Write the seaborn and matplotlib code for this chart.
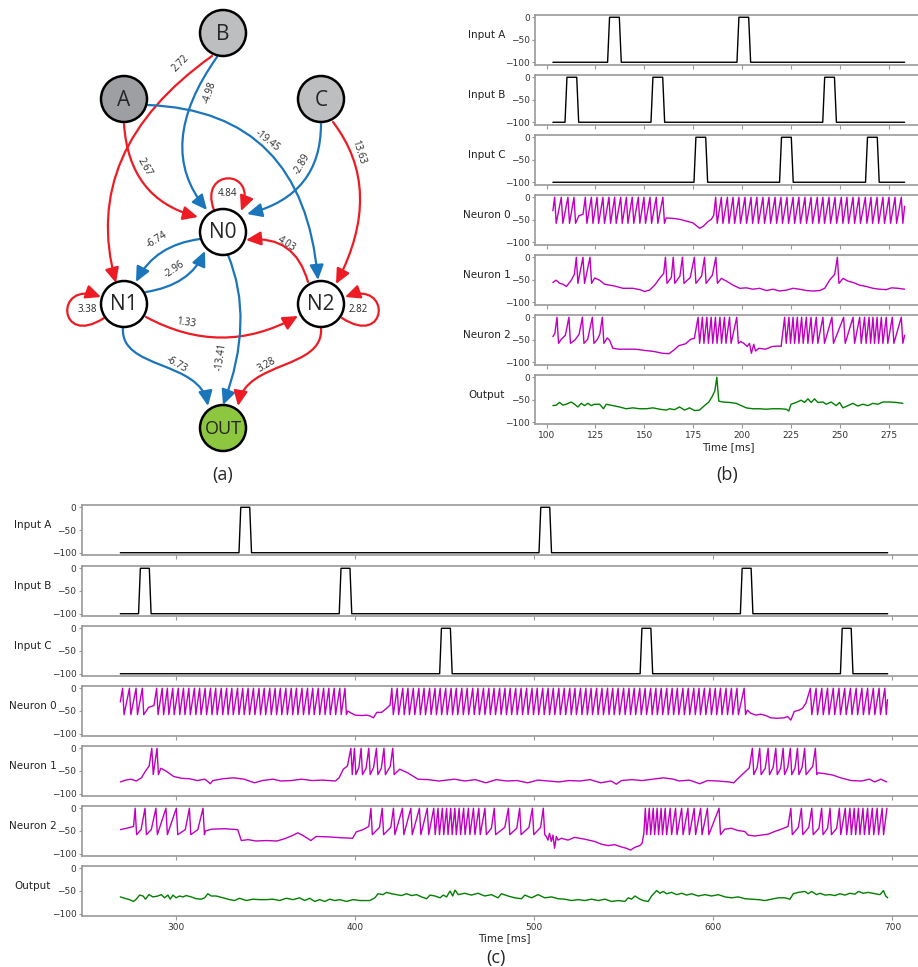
# Network diagram (a) and simulated membrane traces (b), (c)
import pandas as pd
import seaborn as sns
import matplotlib.pyplot as plt
from matplotlib.patches import Circle, FancyArrowPatch
from matplotlib.path import Path

# ---------------- data ----------------
# network
node_names = ['A', 'B', 'C', 'N0', 'N1', 'N2', 'OUT']
edge_src = ['B', 'B', 'A', 'A', 'C', 'C', 'N0', 'N0', 'N1', 'N2', 'N1', 'N2', 'N1', 'N0', 'N1', 'N2']
edge_dst = ['N1', 'N0', 'N0', 'N2', 'N0', 'N2', 'N0', 'N1', 'N0', 'N0', 'N1', 'N2', 'N2', 'OUT', 'OUT', 'OUT']
edge_weight = [2.72, -4.98, 2.67, -19.45, -2.89, 13.63, 4.84, -6.74, -2.96, 4.03, 3.38, 2.82, 1.33, -13.41, -6.73, 3.28]

# panel (b): input pulse onsets [ms]
b_input_a = [131.2, 197.4]
b_input_b = [109.4, 153.4, 241.3]
b_input_c = [175.4, 219.2, 263.2]

# panel (b): neuron spike times and subthreshold waypoints (t, mV)
b_n0_spikes = [104.1, 107.5, 110.9, 114.0, 119.8, 122.9, 125.8, 128.8, 131.9, 134.8, 137.9, 140.8,
               143.8, 146.9, 149.8, 152.9, 156.1, 159.5, 186.5, 189.4, 192.5, 195.4, 198.4, 201.5,
               204.6, 207.6, 210.7, 213.8, 216.9, 219.9, 223.0, 226.1, 229.1, 232.2, 235.3, 238.5,
               241.4, 244.5, 247.6, 250.8, 253.7, 256.8, 259.8, 263.1, 266.0, 269.1, 272.1, 275.2,
               278.3, 281.5]
b_n0_sub = [(103.2, -30), (116.5, -41), (118.6, -38), (161.2, -46), (164.7, -47), (168.1, -49),
            (171.5, -53), (174.9, -57), (178.3, -69), (180.0, -65), (182.6, -54), (184.3, -49),
            (185.5, -40), (283.2, -20)]

b_n1_spikes = [115.2, 118.6, 122.2, 160.8, 164.8, 169.5, 175.6, 180.8, 186.6, 248.8]
b_n1_sub = [(103.2, -56), (104.9, -51), (106.7, -58), (108.4, -60), (110.1, -65), (112.6, -51),
            (114.2, -38), (124.6, -46), (127.1, -51), (129.7, -60), (134.8, -64), (139.1, -69),
            (144.2, -69), (147.6, -72), (150.2, -76), (152.7, -73), (155.3, -62), (157.8, -47),
            (159.9, -36), (163.8, -45), (168.2, -42), (173.5, -45), (179.3, -42), (184.8, -40),
            (189.4, -47), (192.0, -53), (195.4, -62), (198.8, -69), (202.2, -68), (205.6, -71),
            (209.0, -69), (212.4, -74), (215.8, -71), (219.2, -75), (222.7, -73), (226.1, -69),
            (229.5, -71), (232.9, -74), (236.3, -75), (239.7, -74), (242.3, -69), (244.8, -51),
            (247.4, -38), (251.7, -47), (254.2, -53), (256.8, -56), (260.2, -62), (263.6, -65),
            (267.0, -69), (270.4, -71), (273.8, -72), (276.4, -68), (279.8, -69), (283.2, -71)]

b_n2_spikes = [105.3, 111.4, 118.3, 123.4, 128.5, 177.5, 179.7, 182.0, 184.2, 186.4, 188.7, 191.0,
               193.6, 197.3, 221.8, 224.0, 226.1, 228.3, 230.5, 232.9, 235.3, 238.0, 241.4, 246.0,
               252.0, 256.8, 260.2, 262.7, 265.0, 267.0, 269.1, 271.3, 273.8, 276.9, 281.5]
b_n2_sub = [(103.2, -43), (104.2, -36), (107.5, -49), (109.6, -40), (114.4, -51), (116.6, -38),
            (121.0, -49), (126.0, -49), (127.2, -38), (131.0, -46), (132.2, -51), (133.9, -69),
            (137.0, -71), (140.4, -71), (145.5, -71), (150.6, -74), (154.9, -76), (159.2, -80),
            (162.6, -81), (165.1, -73), (167.7, -63), (171.1, -59), (173.7, -49), (175.6, -47),
            (199.3, -54), (200.9, -58), (202.6, -65), (203.8, -58), (204.8, -80), (206.0, -60),
            (206.9, -75), (208.6, -69), (212.0, -71), (215.4, -65), (218.8, -64), (220.0, -65),
            (283.2, -40)]

b_out = [(103.2, -63), (104.9, -62), (106.6, -56), (108.3, -62), (110.0, -60), (112.6, -55),
         (114.3, -60), (116.0, -66), (117.7, -58), (119.4, -63), (121.1, -58), (122.8, -63),
         (124.5, -60), (127.1, -60), (129.1, -70), (130.5, -60), (133.9, -63), (137.3, -66),
         (140.7, -70), (144.2, -68), (147.6, -70), (151.0, -70), (154.4, -68), (157.8, -71),
         (161.2, -73), (162.9, -70), (165.5, -72), (168.0, -66), (170.6, -73), (173.1, -68),
         (175.7, -74), (178.2, -73), (180.8, -63), (183.0, -55), (184.7, -43), (186.1, -30),
         (187.1, 0), (188.1, -53), (190.1, -55), (193.6, -56), (197.0, -58), (199.6, -63),
         (202.1, -68), (205.5, -70), (208.9, -70), (212.3, -71), (215.7, -70), (219.2, -70),
         (222.6, -71), (223.9, -75), (225.1, -60), (227.7, -56), (230.3, -51), (232.0, -56),
         (233.7, -48), (235.4, -56), (237.1, -48), (238.8, -56), (241.4, -55), (243.1, -60),
         (245.6, -55), (248.2, -63), (249.9, -56), (251.6, -68), (254.2, -63), (256.7, -58),
         (259.3, -64), (261.8, -60), (264.4, -63), (266.9, -58), (269.5, -60), (272.1, -55),
         (275.5, -55), (278.9, -56), (282.3, -58)]

# panel (c)
c_input_a = [335.0, 502.6]
c_input_b = [278.9, 391.0, 615.1]
c_input_c = [447.1, 559.1, 671.0]

c_n0_spikes = [270.0, 273.8, 277.5, 281.0,
               289.0, 292.1, 295.0, 298.0, 301.1, 304.0, 307.0, 310.1, 313.0, 316.1, 319.1, 322.0,
               325.1, 328.1, 331.0, 334.2, 337.1, 340.1, 343.1, 346.2, 349.1, 352.2, 355.2, 358.1,
               361.2, 364.2, 367.1, 370.2, 373.3, 376.2, 379.3, 382.3, 385.2, 388.2, 391.3, 394.2,
               420.4, 423.4, 426.5, 429.4, 432.4, 435.5, 438.4, 441.5, 444.5, 447.4, 450.5, 453.5,
               456.4, 459.5, 462.5, 465.6, 468.5, 471.6, 474.6, 477.5, 480.6, 483.6, 486.5, 489.6,
               492.6, 495.7, 498.7, 501.6, 504.7, 507.7, 510.6, 513.7, 516.7, 519.8, 522.7, 525.8,
               528.8, 531.7, 534.8, 537.8, 540.9, 543.8, 546.8, 549.9, 552.9, 555.8, 558.9, 561.9,
               565.0, 567.9, 570.9, 574.0, 577.0, 579.9, 583.0, 586.0, 589.1, 592.0, 595.0, 598.1,
               601.1, 604.0, 607.1, 610.1, 613.2, 617.2,
               654.2, 657.4, 660.6, 663.8, 667.0, 670.2, 673.4, 676.6, 679.8, 683.0, 686.2, 689.4,
               692.6, 695.8]
c_n0_sub = [(268.7, -30), (284.5, -42), (287.5, -38), (395.8, -50), (397.0, -53), (399.8, -59),
            (403.6, -60), (406.4, -59), (408.2, -61), (410.1, -65), (412.0, -53), (414.7, -53),
            (417.5, -44), (419.4, -37), (619.0, -48), (620.9, -55), (623.7, -59), (626.5, -57),
            (629.3, -60), (632.1, -65), (635.8, -66), (639.6, -65), (641.4, -62), (643.3, -70),
            (645.2, -51), (648.0, -48), (649.8, -44), (651.7, -33), (697.3, -25)]

c_n1_spikes = [286.3, 289.2, 397.5, 399.5, 403.2, 407.5, 411.8, 416.0, 420.9,
               621.8, 625.9, 630.6, 634.9, 639.0, 643.0, 647.0, 651.0, 657.0]
c_n1_sub = [(268.8, -74), (271.7, -70), (274.6, -68), (277.6, -72), (280.5, -65), (282.8, -50),
            (284.8, -39), (291.3, -44), (294.2, -50), (298.5, -62), (302.9, -66), (307.3, -67),
            (311.7, -71), (316.0, -68), (319.0, -78), (320.4, -71), (326.2, -67), (332.1, -65),
            (337.9, -68), (343.7, -76), (348.1, -71), (354.0, -68), (358.3, -72), (364.1, -71),
            (370.0, -68), (375.8, -71), (381.6, -70), (388.9, -72), (390.9, -65), (393.3, -46),
            (395.6, -39), (402.0, -42), (406.0, -44), (410.2, -42), (414.5, -44), (419.5, -40),
            (424.8, -46), (429.2, -54), (432.1, -61), (435.0, -68), (440.8, -69), (446.6, -72),
            (451.0, -70), (455.4, -68), (461.2, -72), (467.0, -69), (472.9, -76), (478.7, -69),
            (484.5, -72), (490.4, -71), (496.2, -76), (502.0, -70), (507.9, -72), (513.7, -74),
            (519.5, -71), (525.4, -72), (531.2, -69), (537.0, -76), (542.9, -72), (545.8, -79),
            (548.7, -71), (554.5, -69), (560.3, -71), (566.2, -68), (572.0, -65), (577.8, -68),
            (580.8, -72), (586.6, -70), (592.4, -78), (596.8, -71), (602.6, -72), (608.5, -74),
            (611.4, -76), (613.4, -68), (617.2, -54), (620.1, -43), (624.5, -42), (629.0, -44),
            (633.4, -42), (637.6, -44), (641.6, -42), (645.6, -44), (649.6, -42), (655.5, -40),
            (658.5, -54), (662.4, -56), (666.8, -59), (671.1, -65), (677.0, -71), (682.8, -72),
            (687.2, -68), (690.1, -74), (693.6, -68), (696.8, -74)]

c_n2_spikes = [277.0, 282.5, 288.6, 294.2, 300.0, 307.3, 314.9,
               408.7, 415.0, 421.3, 426.3, 431.0, 435.8, 440.2, 443.8, 446.2, 448.6, 451.0, 453.3,
               455.6, 458.0, 460.5, 463.2, 466.0, 469.0, 472.4, 477.6, 485.5, 491.8, 498.9, 505.0,
               562.0, 564.2, 566.4, 568.6, 570.8, 573.1, 575.9, 578.9, 582.3, 585.8, 589.3, 592.9,
               596.7, 603.2,
               643.3, 649.2, 655.0, 660.5, 665.2, 670.4, 673.7, 676.3, 678.7, 681.1, 683.6, 686.2,
               688.8, 691.5, 694.3, 697.0]
c_n2_sub = [(268.8, -47), (273.2, -43), (276.1, -40), (280.3, -47), (286.0, -47), (305.0, -47),
            (312.0, -47), (316.2, -50), (319.7, -46), (327.0, -45), (334.3, -47), (336.3, -71),
            (340.1, -69), (344.5, -72), (350.3, -71), (356.2, -72), (360.5, -67), (364.9, -60),
            (367.8, -54), (370.8, -60), (375.2, -71), (378.1, -62), (385.4, -63), (392.7, -65),
            (398.5, -66), (400.5, -52), (404.3, -47), (407.5, -40), (413.5, -42), (419.8, -42),
            (476.0, -44), (483.5, -42), (490.2, -44), (497.0, -42), (503.5, -42),
            (506.7, -62), (507.6, -70), (508.5, -55), (509.5, -73), (510.4, -59), (511.3, -88),
            (512.3, -62), (513.2, -70), (515.1, -66), (518.8, -70), (522.5, -64), (528.1, -68),
            (533.7, -73), (537.4, -79), (541.2, -82), (544.9, -80), (548.6, -85), (551.4, -88),
            (553.8, -92), (556.1, -86), (558.9, -82), (560.2, -77), (561.2, -55),
            (606.4, -46), (610.1, -44), (613.8, -49), (617.5, -51), (619.4, -59), (623.1, -61),
            (626.8, -59), (630.6, -57), (634.3, -51), (638.0, -46), (641.7, -40), (647.5, -42),
            (653.3, -42), (659.0, -44), (663.8, -44), (668.9, -44)]

c_out = [(268.7, -63), (271.1, -66), (273.9, -69), (276.1, -73), (277.6, -68), (279.5, -59),
         (281.4, -61), (282.8, -68), (284.7, -58), (286.9, -63), (289.7, -61), (291.6, -58),
         (293.4, -65), (295.3, -59), (296.6, -68), (298.1, -59), (299.9, -65), (301.8, -61),
         (303.7, -63), (305.5, -60), (308.3, -63), (311.1, -67), (313.9, -68), (315.8, -65),
         (317.6, -56), (319.5, -61), (322.3, -61), (326.0, -65), (329.8, -69), (332.5, -71),
         (335.3, -66), (339.1, -71), (342.8, -68), (346.5, -69), (350.3, -69), (354.0, -68),
         (357.7, -71), (361.4, -66), (365.2, -69), (368.9, -65), (371.7, -71), (374.5, -66),
         (377.3, -73), (380.1, -69), (382.9, -73), (385.7, -68), (388.5, -71), (391.3, -69),
         (395.0, -73), (398.8, -69), (402.5, -71), (408.1, -71), (410.9, -65), (412.7, -56),
         (415.5, -58), (417.4, -53), (420.2, -56), (423.0, -58), (425.8, -60), (428.6, -56),
         (431.4, -60), (434.2, -58), (437.0, -63), (439.8, -67), (441.7, -59), (444.5, -61),
         (447.3, -65), (449.1, -59), (451.0, -63), (452.9, -50), (454.4, -61), (455.7, -48),
         (457.5, -58), (461.1, -55), (464.8, -59), (468.6, -55), (472.3, -61), (476.0, -58),
         (479.7, -65), (481.6, -56), (485.3, -61), (489.1, -65), (492.8, -67), (494.7, -59),
         (498.4, -65), (502.1, -58), (505.8, -65), (509.6, -63), (513.3, -67), (517.0, -68),
         (520.7, -71), (524.5, -69), (528.2, -71), (531.9, -68), (535.7, -71), (539.4, -68),
         (543.1, -73), (546.9, -71), (550.6, -73), (552.5, -65), (554.3, -68), (556.2, -61),
         (559.0, -68), (560.8, -71), (563.6, -73), (565.5, -61), (568.3, -49), (570.2, -55),
         (572.0, -51), (573.9, -56), (576.7, -53), (579.5, -58), (582.3, -55), (585.1, -59),
         (587.8, -56), (591.6, -61), (595.3, -58), (599.0, -61), (602.8, -58), (606.5, -63),
         (610.2, -65), (613.9, -63), (617.7, -67), (621.4, -68), (625.1, -69), (628.8, -71),
         (632.6, -68), (636.3, -65), (640.0, -65), (642.8, -68), (644.7, -56), (647.5, -53),
         (651.2, -51), (653.0, -56), (654.9, -51), (657.7, -58), (659.6, -55), (662.4, -59),
         (665.2, -58), (667.9, -60), (670.7, -56), (673.5, -59), (676.3, -55), (679.1, -57),
         (681.0, -51), (683.8, -55), (686.6, -53), (690.3, -56), (693.1, -58), (695.0, -49),
         (696.3, -61), (697.4, -65)]

b_range = (103.2, 283.2)
c_range = (268.7, 697.4)
b_ticks = [100, 125, 150, 175, 200, 225, 250, 275]
c_ticks = [300, 400, 500, 600, 700]


# ---------------- helpers ----------------
def pulse_frame(onsets, t_range):
    pts = [(t_range[0], -100.0)]
    for s in onsets:
        pts += [(s, -100.0), (s + 1, 0.0), (s + 6, 0.0), (s + 7, -100.0)]
    pts.append((t_range[1], -100.0))
    return pd.DataFrame(pts, columns=['t', 'v'])


def neuron_frame(sub, spikes, t_end):
    pts = list(sub)
    for s in spikes:
        pts.append((s, 0.0))
        if s + 0.8 < t_end:
            pts.append((s + 0.8, -58.0))
    pts.sort()
    return pd.DataFrame(pts, columns=['t', 'v'])


W, H = 918, 967
sns.set_theme(style='white')
plt.rcParams['font.family'] = ['DejaVu Sans']
fig = plt.figure(figsize=(W / 100, H / 100), dpi=100)

SPINE = '#999999'
BLACK, MAGENTA, GREEN = '#000000', '#bf00bf', '#008000'


def trace_panel(rows, left, right, tops, height, xlim, ticks, label_x):
    for i, (name, df, color) in enumerate(rows):
        ax = fig.add_axes([left / W, 1 - (tops[i] + height) / H, (right - left) / W, height / H])
        sns.lineplot(data=df, x='t', y='v', color=color, linewidth=1.0,
                     estimator=None, sort=False, ax=ax)
        ax.set_xlim(*xlim)
        ax.set_ylim(-105, 5)
        ax.set_yticks([0, -50, -100])
        ax.set_xticks(ticks)
        for side in ['top', 'left', 'bottom']:
            ax.spines[side].set_color(SPINE)
            ax.spines[side].set_linewidth(1.2)
        ax.spines['right'].set_visible(False)
        last = i == len(rows) - 1
        ax.tick_params(axis='x', bottom=True, length=3, width=0.8, color=SPINE,
                       labelbottom=last, labelsize=6.5, labelcolor='#333333', pad=2)
        ax.tick_params(axis='y', left=True, length=2, width=0.8, color=SPINE,
                       labelsize=6.5, labelcolor='#333333', pad=2)
        ax.set_ylabel(name, rotation=0, ha='center', va='bottom', fontsize=7.5, color='#222222')
        ax.yaxis.set_label_coords(label_x, 0.5)
        if last:
            ax.set_xlabel('Time [ms]', fontsize=7.5, color='#222222', labelpad=1)
        else:
            ax.set_xlabel('')


rows_b = [('Input A', pulse_frame(b_input_a, b_range), BLACK),
          ('Input B', pulse_frame(b_input_b, b_range), BLACK),
          ('Input C', pulse_frame(b_input_c, b_range), BLACK),
          ('Neuron 0', neuron_frame(b_n0_sub, b_n0_spikes, b_range[1]), MAGENTA),
          ('Neuron 1', neuron_frame(b_n1_sub, b_n1_spikes, b_range[1]), MAGENTA),
          ('Neuron 2', neuron_frame(b_n2_sub, b_n2_spikes, b_range[1]), MAGENTA),
          ('Output', pd.DataFrame(b_out, columns=['t', 'v']), GREEN)]
trace_panel(rows_b, 535.3, 922.2, [15, 75, 135, 195, 255, 315, 375], 49.5,
            (94.2, 292.2), b_ticks, -0.125)

rows_c = [('Input A', pulse_frame(c_input_a, c_range), BLACK),
          ('Input B', pulse_frame(c_input_b, c_range), BLACK),
          ('Input C', pulse_frame(c_input_c, c_range), BLACK),
          ('Neuron 0', neuron_frame(c_n0_sub, c_n0_spikes, c_range[1]), MAGENTA),
          ('Neuron 1', neuron_frame(c_n1_sub, c_n1_spikes, c_range[1]), MAGENTA),
          ('Neuron 2', neuron_frame(c_n2_sub, c_n2_spikes, 697.0), MAGENTA),
          ('Output', pd.DataFrame(c_out, columns=['t', 'v']), GREEN)]
trace_panel(rows_c, 82, 926, [505, 566, 626, 686, 746, 806, 866], 50,
            (247.3, 718.8), c_ticks, -0.058)

# ---------------- panel (a): network ----------------
axn = fig.add_axes([0, 1 - 490 / H, 460 / W, 490 / H])
axn.set_xlim(0, 460)
axn.set_ylim(490, 0)
axn.axis('off')

RED, BLUE = '#ed1c24', '#1b75bb'
node_xy = {'A': (124, 99), 'B': (223, 33), 'C': (321, 99), 'N0': (223, 232),
           'N1': (124, 304), 'N2': (321, 304), 'OUT': (223, 428)}
node_fc = {'A': '#9d9fa2', 'B': '#bcbec0', 'C': '#bcbec0', 'N0': 'white',
           'N1': 'white', 'N2': 'white', 'OUT': '#8dc63f'}

# curve control points and label placement for each connection
geom = {
    ('B', 'N1'): ([(212, 56), (80, 150), (116, 283)], (181, 63), 45),
    ('B', 'N0'): ([(217, 57), (154, 146), (207, 210)], (210, 92), 72),
    ('A', 'N0'): ([(124, 124), (129, 199), (198, 217)], (145, 167), -60),
    ('A', 'N2'): ([(148, 105), (303, 111), (318, 280)], (267, 141), -38),
    ('C', 'N0'): ([(321, 124), (321, 195), (247, 214)], (302, 164), 60),
    ('C', 'N2'): ([(333, 122), (385, 190), (336, 284)], (358, 152), -72),
    ('N0', 'N0'): ([(214, 210), (198, 168), (258, 168), (241, 211)], (228, 193), 0),
    ('N0', 'N1'): ([(200, 239), (155, 245), (136, 282)], (157, 240), 32),
    ('N1', 'N0'): ([(146, 292), (190, 285), (205, 251)], (174, 270), 35),
    ('N2', 'N0'): ([(308, 282), (295, 235), (246, 240)], (286, 244), -32),
    ('N1', 'N1'): ([(104, 318), (58, 348), (54, 280), (101, 297)], (87, 310), 0),
    ('N2', 'N2'): ([(342, 318), (388, 348), (392, 280), (345, 297)], (358, 310), 0),
    ('N1', 'N2'): ([(146, 317), (222, 358), (298, 316)], (186, 323), -8),
    ('N0', 'OUT'): ([(228, 255), (255, 320), (223, 405)], (221, 357), 82),
    ('N1', 'OUT'): ([(123, 328), (120, 370), (200, 360), (208, 406)], (177, 364), -30),
    ('N2', 'OUT'): ([(321, 328), (324, 370), (246, 360), (238, 406)], (267, 365), 30),
}

for src, dst, w in zip(edge_src, edge_dst, edge_weight):
    pts, (lx, ly), rot = geom[(src, dst)]
    codes = [Path.MOVETO] + [Path.CURVE3 if len(pts) == 3 else Path.CURVE4] * (len(pts) - 1)
    color = RED if w > 0 else BLUE
    arrow = FancyArrowPatch(path=Path(pts, codes), arrowstyle='-|>,head_length=0.75,head_width=0.35',
                            mutation_scale=12, color=color, lw=1.6, shrinkA=0, shrinkB=0, zorder=2)
    axn.add_patch(arrow)
    axn.text(lx, ly, f'{w:.2f}', rotation=rot, ha='center', va='center', fontsize=7,
             family=['Open Sans', 'DejaVu Sans'], zorder=4)

for n in node_names:
    x, y = node_xy[n]
    axn.add_patch(Circle((x, y), 23, fc=node_fc[n], ec='black', lw=1.8, zorder=3))
    axn.text(x, y + 1, n, ha='center', va='center', fontsize=13 if n == 'OUT' else 15,
             family=['Open Sans', 'DejaVu Sans'], zorder=4)

# panel letters
for txt, x, y in [('(a)', 223, 475), ('(b)', 727, 475), ('(c)', 496, 958)]:
    fig.text(x / W, 1 - y / H, txt, ha='center', va='center', fontsize=13,
             family=['Open Sans', 'DejaVu Sans'])

fig.savefig('out.png', dpi=100)
